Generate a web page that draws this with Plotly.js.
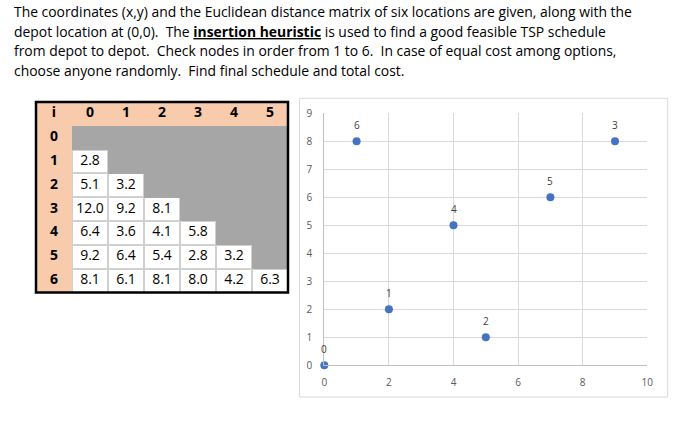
<!DOCTYPE html>
<html><head><meta charset="utf-8">
<script src="https://cdn.plot.ly/plotly-3.0.1.min.js"></script>
<style>html,body{margin:0;padding:0;background:#fff}#c{width:696px;height:438px}</style>
</head><body><div id="c"></div>
<script>
// ---- data ----
const paragraph = [
  "The coordinates (x,y) and the Euclidean distance matrix of six locations are given, along with the",
  "depot location at (0,0).\u00a0 The <b><u>insertion heuristic</u></b> is used to find a good feasible TSP schedule",
  "from depot to depot.\u00a0 Check nodes in order from 1 to 6.\u00a0 In case of equal cost among options,",
  "choose anyone randomly.\u00a0 Find final schedule and total cost."
];
const headerLabels = ["i", "0", "1", "2", "3", "4", "5"];
const rowLabels = ["0", "1", "2", "3", "4", "5", "6"];
const dist = [
  [],
  [2.8],
  [5.1, 3.2],
  [12.0, 9.2, 8.1],
  [6.4, 3.6, 4.1, 5.8],
  [9.2, 6.4, 5.4, 2.8, 3.2],
  [8.1, 6.1, 8.1, 8.0, 4.2, 6.3]
];
const nodeLabels = ["0", "1", "2", "3", "4", "5", "6"];
const nodeX = [0, 2, 5, 9, 4, 7, 1];
const nodeY = [0, 2, 1, 8, 5, 6, 8];
const xTicks = [0, 2, 4, 6, 8, 10];
const yTicks = [0, 1, 2, 3, 4, 5, 6, 7, 8, 9];

// ---- styles ----
const FONT = "'Open Sans', Lato, sans-serif";
const PEACH = "#F8CBAD", GRAY = "#A6A6A6", WHITE = "#FFFFFF", CELLLINE = "#D0D0D0";
const W = 696, H = 438;
const px = v => v / W, py = v => 1 - v / H;

// ---- table grid built from the data ----
const nCols = headerLabels.length, nRows = rowLabels.length + 1;
const zBase = [], zWhite = [];
const tX = [], tY = [], tText = [];
for (let r = 0; r < nRows; r++) {
  const rowB = [], rowW = [];
  for (let c = 0; c < nCols; c++) {
    let kind, label;
    if (r === 0) { kind = 0; label = "<b>" + headerLabels[c] + "</b>"; }
    else if (c === 0) { kind = 0; label = "<b>" + rowLabels[r - 1] + "</b>"; }
    else {
      const i = r - 1, j = c - 1;
      if (i > j) { kind = 2; label = dist[i][j].toFixed(1); }
      else { kind = 1; label = ""; }
    }
    rowB.push(kind === 2 ? 3 : kind);
    rowW.push(kind === 2 ? 2 : null);
    if (label) { tX.push(c); tY.push(r); tText.push(label); }
  }
  zBase.push(rowB); zWhite.push(rowW);
}

const cs = [[0, PEACH], [0.3333, GRAY], [0.6666, WHITE], [1, CELLLINE]];
const baseHeat = {
  type: "heatmap", z: zBase, zmin: 0, zmax: 3, colorscale: cs,
  showscale: false, hoverinfo: "skip", xaxis: "x2", yaxis: "y2"
};
const whiteHeat = {
  type: "heatmap", z: zWhite, zmin: 0, zmax: 3, colorscale: cs,
  showscale: false, hoverinfo: "skip", xgap: 2, ygap: 2, xaxis: "x2", yaxis: "y2"
};
const tableText = {
  type: "scatter", mode: "text", x: tX, y: tY, text: tText,
  textposition: "middle center",
  textfont: {family: FONT, size: 14, color: "#000"},
  hoverinfo: "skip", xaxis: "x2", yaxis: "y2", cliponaxis: false
};

const scatterTrace = {
  type: "scatter",
  mode: "markers",
  x: nodeX, y: nodeY,
  marker: {size: 8, color: "#4472C4"},
  cliponaxis: false,
  hoverinfo: "skip",
  xaxis: "x", yaxis: "y"
};

const annotations = paragraph.map((t, i) => ({
  xref: "paper", yref: "paper",
  x: px(12), y: py([11, 31, 50.5, 70][i]),
  xanchor: "left", yanchor: "middle",
  text: t, showarrow: false,
  font: {family: FONT, size: 13.9, color: "#000"}
}));
nodeLabels.forEach((lab, k) => annotations.push({
  xref: "x", yref: "y", x: nodeX[k], y: nodeY[k],
  text: lab, showarrow: false, xanchor: "center", yanchor: "middle", yshift: 16,
  font: {family: FONT, size: 10, color: "#404040"}
}));

const hidden = {showgrid: false, zeroline: false, showline: false, showticklabels: false, ticks: "", fixedrange: true};

const layout = {
  width: W, height: H,
  margin: {l: 0, r: 0, t: 0, b: 0},
  paper_bgcolor: "#fff", plot_bgcolor: "rgba(0,0,0,0)",
  showlegend: false,
  font: {family: FONT},
  xaxis: {
    domain: [px(324.3), px(647.3)], range: [0, 10],
    tickvals: xTicks, ticktext: xTicks.map(String),
    showgrid: true, gridcolor: "#D9D9D9", gridwidth: 1,
    showline: true, linecolor: "#BFBFBF", linewidth: 1,
    zeroline: false, ticks: "", ticklabelstandoff: 8,
    tickfont: {family: FONT, size: 10, color: "#595959"},
    fixedrange: true
  },
  yaxis: {
    domain: [py(365.3), py(113.3)], range: [0, 9],
    tickvals: yTicks, ticktext: yTicks.map(String),
    showgrid: true, gridcolor: "#D9D9D9", gridwidth: 1,
    showline: true, linecolor: "#BFBFBF", linewidth: 1,
    zeroline: false, ticks: "", ticklabelstandoff: 9,
    tickfont: {family: FONT, size: 10, color: "#595959"},
    fixedrange: true
  },
  xaxis2: Object.assign({domain: [px(36), px(288)], range: [-0.5, nCols - 0.5], anchor: "y2"}, hidden),
  yaxis2: Object.assign({domain: [py(292.5), py(102)], range: [nRows - 0.5, -0.5], anchor: "x2"}, hidden),
  shapes: [
    {type: "rect", xref: "paper", yref: "paper", x0: px(299.5), x1: px(667.7), y0: py(397), y1: py(98.3),
     line: {color: "#D9D9D9", width: 1}, layer: "below"},
    {type: "rect", xref: "paper", yref: "paper", x0: px(36), x1: px(288), y0: py(292.5), y1: py(102),
     line: {color: "#000", width: 2.5}, layer: "above"}
  ],
  annotations: annotations
};

Plotly.newPlot("c", [baseHeat, whiteHeat, tableText, scatterTrace], layout, {displayModeBar: false, staticPlot: true});
</script></body></html>
